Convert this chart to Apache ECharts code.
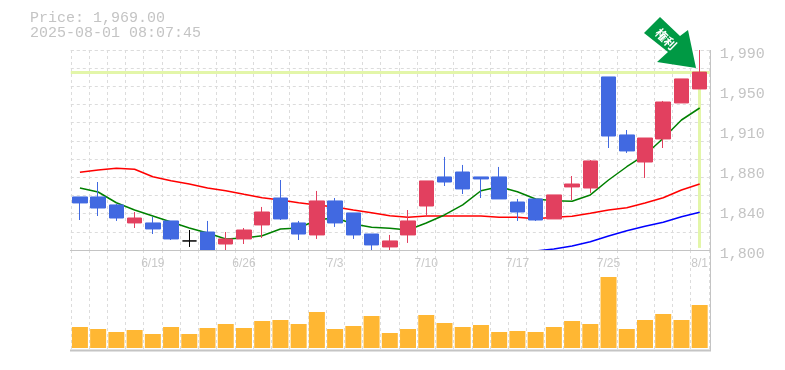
<!DOCTYPE html>
<html><head><meta charset="utf-8">
<style>html,body{margin:0;padding:0;background:#fff}#c{width:785px;height:370px}</style>
<script src="https://cdn.jsdelivr.net/npm/echarts@6/dist/echarts.min.js"></script>
</head><body><div id="c"></div>
<script>
const priceLine = 'Price: 1,969.00';
const timeLine = '2025-08-01 08:07:45';
const lastPrice = 1969;
const badgeText = '権利';
const categories = ['6/13','6/16','6/17','6/18','6/19','6/20','6/23','6/24','6/25','6/26','6/27','6/30','7/1','7/2','7/3','7/4','7/7','7/8','7/9','7/10','7/11','7/14','7/15','7/16','7/17','7/18','7/22','7/23','7/24','7/25','7/28','7/29','7/30','7/31','8/1'];
const priceTicks = ['1,800','1,840','1,880','1,910','1,950','1,990'];
const opens = [1850.4,1850.4,1842.8,1825.7,1825.7,1827.6,1808.6,1817.1,1805.7,1810.5,1823.8,1849.4,1825.7,1814.3,1846.6,1835.2,1815.2,1802.9,1814.3,1841.8,1869.4,1874.1,1869.4,1869.4,1845.6,1848.5,1829.5,1859.9,1858.9,1964.4,1909.3,1883.6,1905.5,1939.7,1953];
const closes = [1844.7,1839.9,1830.4,1830.4,1820,1810.5,1808.6,1800,1810.5,1819,1836.1,1829.5,1815.2,1846.6,1825.7,1814.3,1804.8,1808.6,1827.6,1865.6,1864.6,1858,1867.5,1848.5,1836.1,1828.5,1852.3,1862.7,1884.6,1908.3,1894.1,1906.4,1940.6,1962.5,1969];
const lows = [1828.5,1832.3,1827.6,1820.9,1815.2,1809.5,1802.9,1800,1800,1805.7,1811.4,1828.5,1809.5,1810.5,1821.9,1810.5,1800,1800,1806.7,1832.3,1860.8,1853.2,1849.4,1848.5,1827.6,1827.6,1829.5,1847.5,1854.2,1896.9,1892.2,1868.4,1896.9,1939.7,1953];
const highs = [1850.4,1864.6,1843.7,1836.1,1831.4,1827.6,1819,1827.6,1817.1,1820.9,1840.9,1866.5,1827.6,1856.1,1849.4,1835.2,1815.2,1814.3,1838,1865.6,1888.4,1880.8,1869.4,1878.9,1848.5,1848.5,1852.3,1870.3,1885.5,1964.4,1914,1906.4,1941.6,1962.5,1990];
const maShort = [1858.9,1855.1,1844.9,1838,1832.3,1826.6,1820.9,1816.2,1810.5,1811.4,1813.6,1820,1820.9,1828.5,1830.7,1824.7,1821.6,1820.6,1819,1825.7,1833.3,1842.8,1856.3,1860.1,1855.4,1848.5,1846.8,1846.3,1852.3,1866.5,1879.1,1890.3,1906.1,1923.5,1934.9];
const maMid = [1873.8,1876,1877.6,1876.7,1869.6,1865.8,1862.7,1858.9,1856.3,1852.9,1849.7,1847.5,1844.9,1842.8,1840.9,1838,1835.4,1832.6,1831.1,1832.3,1832.3,1832.3,1832.3,1831.1,1831.1,1829.7,1831.1,1832,1834.9,1838,1840.2,1844.7,1849.7,1857,1862.7];
const maLong = [null,null,null,null,null,null,null,null,null,null,null,null,null,null,null,null,null,null,null,null,null,null,null,null,null,1799,1801,1803.8,1807.9,1813.3,1818.3,1822.5,1826.3,1831.6,1835.8];
const volumes = [21,19,16,18,14,21,14,20,24,20,27,28,24,36,19,22,32,15,19,33,25,21,23,16,17,16,21,27,24,71,19,28,34,28,43];

const candles = categories.map((_, i) => [opens[i], closes[i], lows[i], highs[i]]);
const gridGray = '#dcdcdc';
const frameGray = '#c4c4c4';
const textGray = '#c4c4c4';
const mono = '"Liberation Mono", monospace';
const GL = 70.8, GW = 638;
const splitDash = {show:true, lineStyle:{color:gridGray, type:[3,3], width:1}};

const chart = echarts.init(document.getElementById('c'), null, {renderer:'canvas'});
chart.setOption({
  animation:false,
  backgroundColor:'#fff',
  grid:[
    {left:GL, top:50, width:GW, height:200},
    {left:GL, top:250, width:GW, height:100},
    {left:GL, top:54.5, width:GW, height:200}
  ],
  xAxis:[
    {type:'category', gridIndex:0, data:categories, boundaryGap:true,
     axisLine:{show:false}, axisTick:{show:false},
     axisLabel:{interval:i=>i%5===4, color:'#c8c8c8', fontFamily:'"Liberation Sans", sans-serif', fontSize:12, margin:8, hideOverlap:false},
     splitLine:Object.assign({interval:0}, splitDash)},
    {type:'category', gridIndex:1, data:categories, boundaryGap:true,
     axisLine:{show:false}, axisTick:{show:false}, axisLabel:{show:false},
     splitLine:Object.assign({interval:0}, splitDash)},
    {type:'category', gridIndex:2, data:categories, show:false}
  ],
  yAxis:[
    {type:'value', gridIndex:0, min:1800, max:1990, interval:190/11, position:'right',
     axisLine:{show:false}, axisTick:{show:false}, axisLabel:{show:false}, splitLine:splitDash},
    {type:'value', gridIndex:2, min:1800, max:1990, interval:38, position:'right',
     axisLine:{show:false}, axisTick:{show:false}, splitLine:{show:false},
     axisLabel:{show:true, color:textGray, fontFamily:mono, fontSize:15, margin:11,
       formatter:(v,i)=>priceTicks[i]}},
    {type:'value', gridIndex:1, min:-2, max:98, position:'right', show:false, splitLine:{show:false}}
  ],
  series:[
    {type:'line', xAxisIndex:0, yAxisIndex:0, z:1, data:[], symbol:'none', silent:true,
     markLine:{z:1, silent:true, symbol:'none', label:{show:false}, animation:false, precision:2,
       lineStyle:{color:'#e3f6a9', width:3, type:'solid'},
       data:[
         [{xAxis:categories[0], x:GL, yAxis:lastPrice},{x:GL+GW+1, yAxis:lastPrice}],
         [{xAxis:categories[categories.length-1], yAxis:lastPrice},{xAxis:categories[categories.length-1], yAxis:1802}]
       ]}},
    {type:'line', xAxisIndex:0, yAxisIndex:0, z:2, data:maMid, symbol:'none', lineStyle:{color:'#ff0000', width:1.5}, silent:true},
    {type:'line', xAxisIndex:0, yAxisIndex:0, z:2, data:maShort, symbol:'none', lineStyle:{color:'#008000', width:1.5}, silent:true},
    {type:'line', xAxisIndex:0, yAxisIndex:0, z:2, data:maLong, symbol:'none', lineStyle:{color:'#0000ff', width:1.5}, silent:true},
    {type:'candlestick', xAxisIndex:0, yAxisIndex:0, z:3, data:candles, barWidth:15, silent:true,
     itemStyle:{color:'#e2405f', color0:'#4169e1', borderColor:'#e2405f', borderColor0:'#4169e1', borderColorDoji:'#000', borderWidth:1}},
    {type:'bar', xAxisIndex:1, yAxisIndex:2, z:3, data:volumes, barWidth:16, silent:true, itemStyle:{color:'#ffb733'}}
  ],
  graphic:[
    {type:'text', left:30, top:11, silent:true, style:{text:priceLine, fill:textGray, font:'15px '+mono}},
    {type:'text', left:30, top:26, silent:true, style:{text:timeLine, fill:textGray, font:'15px '+mono}},
    {type:'line', silent:true, z:5, shape:{x1:70,y1:250.5,x2:711,y2:250.5}, style:{stroke:frameGray,lineWidth:1}},
    {type:'line', silent:true, z:5, shape:{x1:70,y1:350.5,x2:711,y2:350.5}, style:{stroke:frameGray,lineWidth:2}},
    {type:'line', silent:true, z:5, shape:{x1:710.5,y1:50,x2:710.5,y2:351}, style:{stroke:frameGray,lineWidth:1}},
    {type:'polygon', silent:true, z:6, shape:{points:[[660,17],[680,36],[688,30],[696,68],[657,62],[668,52],[644,33]]}, style:{fill:'#009944'}},
    {type:'text', silent:true, z:7, x:666, y:39, rotation:-Math.PI/4,
     style:{text:badgeText, fill:'#fff', font:'bold 12px "Noto Sans CJK JP"', align:'center', verticalAlign:'middle'}}
  ]
});
</script></body></html>
